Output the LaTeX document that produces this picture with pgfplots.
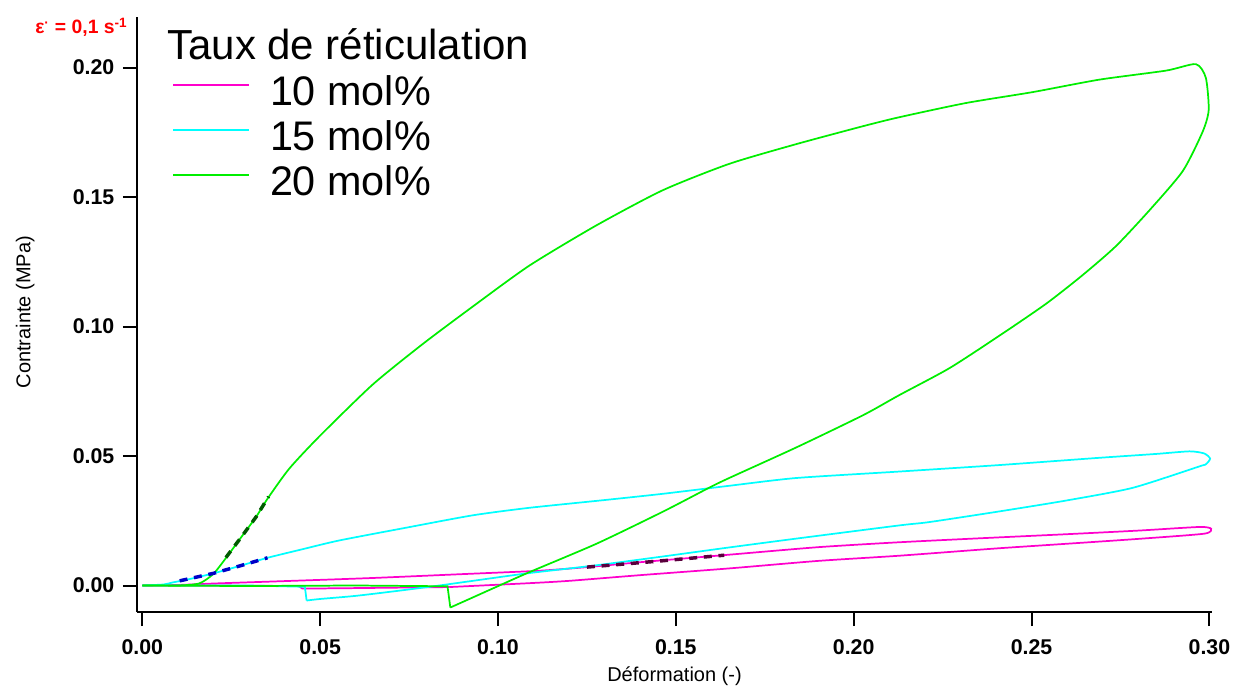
\documentclass[border=0pt]{standalone}
\usepackage{pgfplots}
\pgfplotsset{compat=1.18}
\usepackage{fontspec}
\setmainfont{Liberation Sans}
\definecolor{cmag}{RGB}{255,0,204}
\definecolor{ccyan}{RGB}{0,255,255}
\definecolor{cgreen}{RGB}{0,238,0}
\definecolor{dgreen}{RGB}{0,90,0}
\definecolor{dblue}{RGB}{0,0,200}
\definecolor{dpurple}{RGB}{90,0,60}
\begin{document}
\begin{tikzpicture}
\useasboundingbox (0,0) rectangle (924.75pt,515.25pt);
\begin{axis}[
  at={(102.75pt,56.25pt)}, anchor=south west,
  scale only axis, width=806.25pt, height=446.25pt,
  xmin=-0.00149, xmax=0.30073, ymin=-0.01023, ymax=0.2195,
  axis lines=left, axis line style={-, line width=1.5pt},
  tick style={line width=1.5pt, black}, tick align=outside, major tick length=10.5pt,
  xtick={0,0.05,0.1,0.15,0.2,0.25,0.3}, ytick={0,0.05,0.1,0.15,0.2},
  /pgf/number format/.cd, fixed, fixed zerofill, precision=2, assume math mode=true, /pgfplots/.cd,
  ticklabel style={font=\bfseries\fontsize{16}{19}\selectfont},
  yticklabel style={xshift=-3pt},
  xticklabel style={yshift=-6.75pt},
  xlabel={Déformation (-)}, ylabel={Contrainte (MPa)},
  label style={font=\fontsize{15}{18}\selectfont},
  xlabel style={at={(axis description cs:0.5,-0.1171)}, anchor=base},
  ylabel style={at={(axis description cs:-0.104,0.504)}, anchor=center},
  clip=false,
  legend style={draw=none, fill=none, at={(axis description cs:0.03256,0.9059)}, anchor=north west,
    inner sep=0pt, row sep=0pt, font=\fontsize{31}{36}\selectfont,
    nodes={inner sep=0pt, text height=24pt, text depth=9.75pt}},
  legend cell align=left,
  legend image code/.code={\draw[#1] (0pt,8.25pt) -- (57pt,8.25pt); \path (0pt,0pt) (72pt,0pt);},
]
% 10 mol%
\addplot[cmag, line width=1.3pt, smooth, tension=0.4] coordinates {
(0,0) (0.01,0.0002) (0.0207,0.0008) (0.04,0.0017) (0.0647,0.0029) (0.09,0.0044) (0.1116,0.0057)
(0.125,0.0071) (0.14,0.0090) (0.165,0.0119) (0.19,0.0148) (0.2128,0.0167) (0.2365,0.0183)
(0.2597,0.0198) (0.28,0.0212) (0.2972,0.0226) (0.3005,0.0219) (0.2985,0.0200) (0.28,0.0180)
(0.2597,0.0161) (0.24,0.0143) (0.2128,0.0115) (0.19,0.0095) (0.165,0.0066) (0.14,0.0040)
(0.12,0.0018) (0.1088,0.0009) (0.0863,-0.0006)};
\addlegendentry{10 mol\%}
\addplot[cmag, line width=1.3pt, forget plot] coordinates {
(0.0863,-0.0006) (0.06,-0.0010) (0.045,-0.0012) (0.0440,-0.0002) (0.02,0.0) (0.0,0.0)};
% 15 mol%
\addplot[ccyan, line width=1.3pt, smooth, tension=0.4] coordinates {
(0,0) (0.006,0.0004) (0.0086,0.0012) (0.0127,0.0023) (0.02,0.0047) (0.0275,0.0076) (0.0352,0.0107)
(0.045,0.0140) (0.0554,0.0174) (0.0741,0.0223) (0.0929,0.0271) (0.1088,0.0300) (0.13,0.0330)
(0.1463,0.0354) (0.165,0.0385) (0.1838,0.0415) (0.2128,0.0440) (0.2409,0.0465) (0.2690,0.0493)
(0.2850,0.0508) (0.2944,0.0518) (0.2985,0.0510) (0.3002,0.0490) (0.2990,0.0468) (0.2972,0.0460)
(0.2784,0.0377) (0.2597,0.0328) (0.2409,0.0286) (0.2213,0.0245) (0.2128,0.0232) (0.1838,0.0181)
(0.165,0.0147) (0.1463,0.0112) (0.1276,0.0078) (0.1088,0.0048) (0.0950,0.0022) (0.0835,0.0000)
(0.0722,-0.0020) (0.0600,-0.0040) (0.0500,-0.0052) (0.0462,-0.0058)};
\addlegendentry{15 mol\%}
\addplot[ccyan, line width=1.3pt, forget plot] coordinates {
(0.0462,-0.0058) (0.0457,-0.0005) (0.03,0.0) (0,0)};
% 20 mol%
\addplot[cgreen, line width=1.3pt, smooth, tension=0.4] coordinates {
(0,0) (0.01,0.0) (0.016,0.0008) (0.020,0.0045) (0.024,0.0115) (0.028,0.0190) (0.032,0.0265)
(0.0352,0.0335) (0.0413,0.0451) (0.0498,0.0576) (0.0647,0.0775) (0.0788,0.0932) (0.0929,0.1077)
(0.1088,0.1235) (0.1276,0.1390) (0.1463,0.1526) (0.1650,0.1628) (0.1838,0.1704) (0.2025,0.1773)
(0.2128,0.1808) (0.2316,0.1863) (0.2503,0.1905) (0.2690,0.1953) (0.2878,0.1988) (0.2962,0.2013)
(0.2990,0.1960) (0.2998,0.1836) (0.2981,0.1752) (0.2925,0.1600) (0.2831,0.1448) (0.2737,0.1310)
(0.2644,0.1199) (0.2541,0.1088) (0.2409,0.0964) (0.2269,0.0839) (0.2128,0.0735) (0.2027,0.0658)
(0.1840,0.0534) (0.1653,0.0417) (0.1597,0.0380) (0.1465,0.0286) (0.1278,0.0162) (0.1089,0.0052)
(0.1004,0.0000) (0.0866,-0.0085)};
\addlegendentry{20 mol\%}
\addplot[cgreen, line width=1.3pt, forget plot] coordinates {
(0.0866,-0.0085) (0.0858,-0.0003) (0.06,0.0) (0.03,-0.0002) (0,0)};
% fitted dashed segments
\addplot[dgreen, line width=2.6pt, dash pattern=on 6pt off 5pt, forget plot] coordinates {
(0.0235,0.0108) (0.028,0.0190) (0.032,0.0265) (0.0355,0.0343)};
\addplot[dblue, line width=2.6pt, dash pattern=on 6pt off 5pt, forget plot] coordinates {
(0.0105,0.0018) (0.0200,0.0047) (0.0275,0.0076) (0.0352,0.0107)};
\addplot[dpurple, line width=2.6pt, dash pattern=on 6pt off 5pt, forget plot] coordinates {
(0.125,0.0071) (0.145,0.0094) (0.1636,0.0117)};
\end{axis}
\node[anchor=base west, font=\fontsize{31.5}{36}\selectfont, inner sep=0pt] at (125.25pt,470.25pt) {Taux de réticulation};
\node[anchor=base west, text=red, font=\bfseries\fontsize{14.5}{16}\selectfont, inner sep=0pt] at (26.25pt,489.75pt) {ε\textsuperscript{·} = 0,1 s\textsuperscript{-1}};
\end{tikzpicture}
\end{document}
